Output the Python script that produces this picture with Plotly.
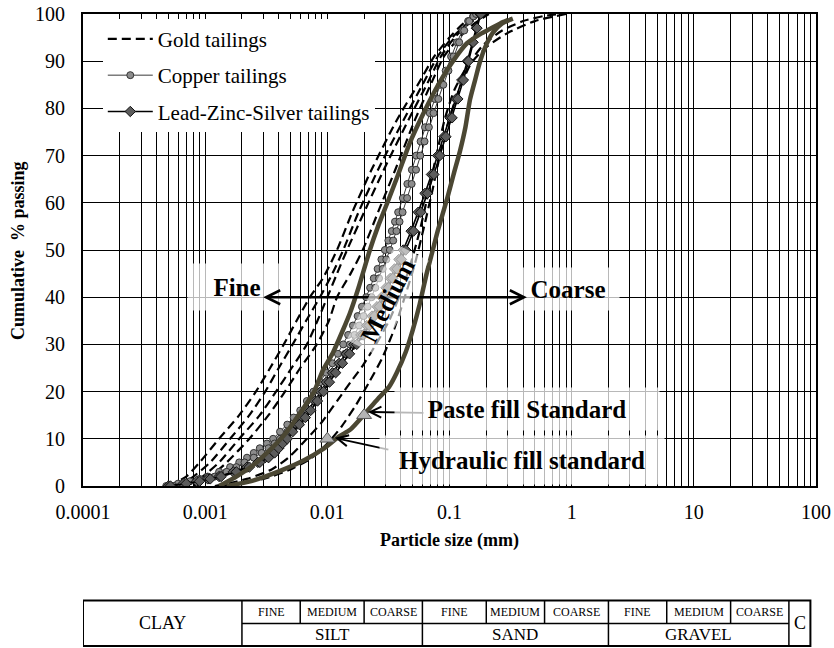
import numpy as np
import plotly.graph_objects as go

FONT = "Liberation Serif"

# ---------------- data (particle size in mm, cumulative % passing) ----------------
# Gold tailings (black dashed curves)
gold1_d = [0.0005, 0.0007, 0.0009, 0.0013, 0.0019, 0.0026, 0.0034, 0.0044, 0.0056, 0.0072, 0.0092, 0.012, 0.016, 0.023, 0.037, 0.055, 0.075, 0.1, 0.13, 0.17]
gold1_p = [0, 2, 5, 10, 15, 20, 25, 30, 35, 40, 44, 50, 58, 67, 77.5, 85, 91, 95, 98, 100]
gold2_d = [0.0006, 0.0008, 0.0011, 0.0016, 0.0023, 0.0031, 0.004, 0.0052, 0.0067, 0.0087, 0.011, 0.0135, 0.018, 0.026, 0.042, 0.06, 0.08, 0.105, 0.14, 0.18]
gold2_p = [0, 2, 5, 10, 15, 20, 25, 30, 35, 40, 45, 50, 58, 67, 77.5, 85, 91, 95, 98, 100]
gold3_d = [0.0007, 0.00095, 0.0013, 0.0019, 0.0028, 0.0038, 0.0051, 0.0068, 0.0083, 0.01, 0.012, 0.0145, 0.02, 0.029, 0.046, 0.065, 0.085, 0.11, 0.145, 0.19]
gold3_p = [0, 2, 5, 10, 15, 20, 25, 30, 35, 40, 45, 50, 58, 67, 77.5, 85, 91, 95, 98, 100]
gold4_d = [0.0008, 0.0011, 0.0015, 0.0023, 0.0033, 0.0045, 0.006, 0.0082, 0.0103, 0.012, 0.0155, 0.0195, 0.026, 0.036, 0.052, 0.07, 0.09, 0.12, 0.16, 0.21]
gold4_p = [0, 2, 5, 10, 15, 20, 25, 30, 35, 40, 45, 50, 58, 67, 77.5, 85, 91, 95, 98, 100]
gold5_d = [0.0012, 0.0022, 0.0035, 0.0048, 0.0068, 0.009, 0.012, 0.0155, 0.0195, 0.025, 0.032, 0.04, 0.048, 0.057, 0.067, 0.078, 0.092, 0.11, 0.14, 0.19, 0.27, 0.4, 0.6, 0.8]
gold5_p = [0, 1.5, 3.5, 6, 10, 13.5, 18, 22, 25.5, 30, 35, 41, 47, 54, 62, 70, 78, 84, 89, 93.5, 96.5, 98.5, 99.6, 100]
gold6_d = [0.0013, 0.003, 0.005, 0.0075, 0.01, 0.013, 0.017, 0.022, 0.028, 0.035, 0.043, 0.052, 0.062, 0.073, 0.085, 0.1, 0.12, 0.15, 0.2, 0.3, 0.5, 0.9]
gold6_p = [0, 1.5, 3.5, 6, 9, 12.5, 17, 22, 27, 33, 40, 47, 55, 63, 71, 78, 84, 89.5, 93, 96, 98.5, 100]

# Copper tailings (grey circles)
copper1_d = [0.00048, 0.0006, 0.00075, 0.0009, 0.00105, 0.0013, 0.0016, 0.0019, 0.0022, 0.0025, 0.0028, 0.0032, 0.0036, 0.0041, 0.0047, 0.0053, 0.006, 0.0068, 0.0077, 0.0087, 0.0098, 0.011, 0.0122, 0.0135, 0.0148, 0.0162, 0.0177, 0.0192, 0.0208, 0.0224, 0.024, 0.0258, 0.0277, 0.0296, 0.0316, 0.0337, 0.0358, 0.038, 0.0415, 0.0452, 0.0492, 0.0534, 0.058, 0.063, 0.069, 0.076, 0.084, 0.093, 0.103, 0.115, 0.128, 0.142, 0.156, 0.17]
copper1_p = [0, 0.5, 1, 1.5, 2, 3, 4, 5, 6, 7, 8, 9, 10, 11.5, 13, 14.5, 16, 18, 20, 22, 24, 26, 28, 30, 32, 34, 36, 38, 40, 42, 44, 46, 48, 50, 52, 54, 56, 58, 61, 64, 67, 70, 73, 76, 79, 82, 85, 88, 91, 94, 96.5, 98.5, 99.5, 100]
copper2_d = [0.00055, 0.0007, 0.00088, 0.00105, 0.0012, 0.0015, 0.0018, 0.0021, 0.0025, 0.0029, 0.0033, 0.0037, 0.0041, 0.0047, 0.0054, 0.0061, 0.0069, 0.0079, 0.009, 0.0101, 0.0113, 0.0126, 0.0139, 0.0153, 0.0167, 0.0182, 0.0198, 0.0214, 0.023, 0.0247, 0.0265, 0.0284, 0.0304, 0.0325, 0.0346, 0.0368, 0.039, 0.0413, 0.045, 0.049, 0.0532, 0.0577, 0.0625, 0.0678, 0.074, 0.081, 0.089, 0.098, 0.108, 0.12, 0.132, 0.145, 0.157, 0.165]
copper2_p = [0, 0.5, 1, 1.5, 2, 3, 4, 5, 6, 7, 8, 9, 10, 11.5, 13, 14.5, 16, 18, 20, 22, 24, 26, 28, 30, 32, 34, 36, 38, 40, 42, 44, 46, 48, 50, 52, 54, 56, 58, 61, 64, 67, 70, 73, 76, 79, 82, 85, 88, 91, 94, 96.5, 98.5, 99.5, 100]

# Lead-Zinc-Silver tailings (dark diamonds)
lead1_d = [0.0005, 0.00066, 0.00085, 0.00105, 0.0013, 0.0017, 0.0022, 0.0027, 0.0031, 0.0035, 0.0038, 0.0041, 0.0044, 0.0049, 0.0056, 0.0063, 0.0069, 0.0079, 0.0088, 0.0098, 0.011, 0.0125, 0.0143, 0.0165, 0.0188, 0.021, 0.0232, 0.0255, 0.0278, 0.0302, 0.0328, 0.0355, 0.0385, 0.0418, 0.0485, 0.0555, 0.063, 0.0712, 0.08, 0.09, 0.101, 0.113, 0.126, 0.14, 0.154, 0.166, 0.178]
lead1_p = [0, 0.5, 1, 1.5, 2, 3, 4, 5, 6, 7, 8, 9, 10, 11.5, 13, 14.5, 16, 18, 20, 22, 24, 26, 28, 30, 32, 34, 36, 38, 40, 42, 44, 46, 48, 50, 54, 58, 62, 66, 70, 74, 78, 82, 86, 90, 94, 97, 100]
lead2_d = [0.00052, 0.0007, 0.0009, 0.0011, 0.00135, 0.0018, 0.0023, 0.0028, 0.0033, 0.0037, 0.004, 0.0043, 0.0047, 0.0052, 0.0059, 0.0066, 0.0073, 0.0083, 0.0093, 0.0104, 0.0117, 0.0133, 0.0152, 0.0174, 0.0197, 0.022, 0.0243, 0.0267, 0.0291, 0.0316, 0.0343, 0.0372, 0.0404, 0.0438, 0.0508, 0.0582, 0.066, 0.0745, 0.0835, 0.0935, 0.105, 0.117, 0.13, 0.143, 0.156, 0.168, 0.18]
lead2_p = [0, 0.5, 1, 1.5, 2, 3, 4, 5, 6, 7, 8, 9, 10, 11.5, 13, 14.5, 16, 18, 20, 22, 24, 26, 28, 30, 32, 34, 36, 38, 40, 42, 44, 46, 48, 50, 54, 58, 62, 66, 70, 74, 78, 82, 86, 90, 94, 97, 100]

# Standard envelope curves (thick olive)
envelope_fine_d = [0.0013, 0.0018, 0.0025, 0.0032, 0.0045, 0.006, 0.0078, 0.0092, 0.011, 0.0134, 0.0153, 0.018, 0.0223, 0.026, 0.031, 0.038, 0.047, 0.06, 0.083, 0.11, 0.139, 0.18, 0.214, 0.26, 0.3]
envelope_fine_p = [0, 2, 4.5, 7, 11, 15.5, 20, 24.5, 28, 33, 36.6, 42, 50, 55, 60, 66, 72.5, 78.5, 85.5, 90.5, 93.8, 95.8, 96.8, 98, 98.7]
envelope_coarse_d = [0.0015, 0.0025, 0.0043, 0.0065, 0.0092, 0.0125, 0.0155, 0.0195, 0.026, 0.032, 0.037, 0.044, 0.05, 0.057, 0.065, 0.073, 0.08, 0.095, 0.108, 0.122, 0.135, 0.147, 0.162, 0.178, 0.2, 0.226, 0.27, 0.33]
envelope_coarse_p = [0, 1.2, 3.4, 5.5, 7.8, 10.5, 12, 14.8, 18.5, 21, 24, 28.5, 33, 38.5, 45, 50, 54, 60.6, 66, 71, 76, 81.8, 86, 90, 93.5, 96, 98, 99]

# Standard points (triangles)
standard_d = [0.01, 0.02]
standard_p = [10, 15]

# Axis ticks
decades = [0.0001, 0.001, 0.01, 0.1, 1, 10, 100]
decade_labels = ["0.0001", "0.001", "0.01", "0.1", "1", "10", "100"]
y_ticks = [0, 10, 20, 30, 40, 50, 60, 70, 80, 90, 100]

# Soil classification table (size boundaries, mm)
class_bounds = [0.0001, 0.002, 0.006, 0.02, 0.06, 0.2, 0.6, 2, 6, 20, 60, 90]
sub_labels = ["FINE", "MEDIUM", "COARSE"] * 3
main_labels = ["SILT", "SAND", "GRAVEL"]

# ---------------- figure ----------------
fig = go.Figure()

gold_curves = [(gold1_d, gold1_p), (gold2_d, gold2_p), (gold3_d, gold3_p),
               (gold4_d, gold4_p), (gold5_d, gold5_p), (gold6_d, gold6_p)]
for i, (d, p) in enumerate(gold_curves):
    fig.add_trace(go.Scatter(
        x=d, y=p, mode="lines", name="Gold tailings", legendgroup="gold",
        showlegend=(i == 0), hoverinfo="skip",
        line=dict(color="black", width=2.2, dash="9px,5px", shape="spline", smoothing=0.6)))

for i, (d, p) in enumerate([(copper1_d, copper1_p), (copper2_d, copper2_p)]):
    fig.add_trace(go.Scatter(
        x=d, y=p, mode="lines+markers", name="Copper tailings", legendgroup="copper",
        showlegend=(i == 0), hoverinfo="skip",
        line=dict(color="#3a3a3a", width=1),
        marker=dict(symbol="circle", size=7, color="#8c8c8c", line=dict(color="#333333", width=1))))

for i, (d, p) in enumerate([(lead1_d, lead1_p), (lead2_d, lead2_p)]):
    fig.add_trace(go.Scatter(
        x=d, y=p, mode="lines+markers", name="Lead-Zinc-Silver tailings", legendgroup="lead",
        showlegend=(i == 0), hoverinfo="skip",
        line=dict(color="black", width=1.6),
        marker=dict(symbol="diamond", size=8, color="#5c5c5c", line=dict(color="#111111", width=1))))

for d, p in [(envelope_fine_d, envelope_fine_p), (envelope_coarse_d, envelope_coarse_p)]:
    fig.add_trace(go.Scatter(
        x=d, y=p, mode="lines", showlegend=False, hoverinfo="skip",
        line=dict(color="#4b4733", width=4.5, shape="spline", smoothing=0.6)))

fig.add_trace(go.Scatter(
    x=standard_d, y=standard_p, mode="markers", showlegend=False, hoverinfo="skip",
    marker=dict(symbol="triangle-up", size=13, color="#b4b4b4", line=dict(color="#555555", width=1))))

# x tick values: every 1..9 x 10^k as grid, labels on decades only
x_tickvals = []
x_ticktext = []
for k, dec in enumerate(decades[:-1]):
    for m in range(1, 10):
        x_tickvals.append(dec * m)
        x_ticktext.append(decade_labels[k] if m == 1 else "")
x_tickvals.append(decades[-1])
x_ticktext.append(decade_labels[-1])

axis_font = dict(family=FONT, size=20, color="black")
fig.update_layout(
    template="none",
    width=834, height=648,
    margin=dict(l=83, r=18, t=14, b=162, autoexpand=False),
    paper_bgcolor="white", plot_bgcolor="white",
    font=dict(family=FONT, color="black"),
    xaxis=dict(type="log", range=[-4, 2], tickvals=x_tickvals, ticktext=x_ticktext,
               showgrid=True, gridcolor="black", gridwidth=1, automargin=False,
               showline=True, linecolor="black", linewidth=2, mirror=True,
               ticks="", tickfont=axis_font, ticklabelstandoff=7, zeroline=False),
    yaxis=dict(range=[0, 100], tickvals=y_ticks, automargin=False,
               showgrid=True, gridcolor="black", gridwidth=1,
               showline=True, linecolor="black", linewidth=2, mirror=True,
               ticks="", tickfont=axis_font, ticklabelstandoff=12, zeroline=False),
    legend=dict(x=0.027, y=0.99, xanchor="left", yanchor="top",
                bgcolor="white", borderwidth=0,
                font=dict(family=FONT, size=21, color="black"),
                traceorder="grouped", tracegroupgap=6, itemwidth=45),
    showlegend=True,
)

# white legend box (above grid, below traces)
fig.add_shape(type="rect", xref="paper", yref="paper", layer="between",
              x0=0.0, x1=0.408, y0=0.758, y1=0.983,
              fillcolor="white", line=dict(width=0))

# ---------------- annotations ----------------
ann = []
ann.append(dict(xref="paper", yref="paper", x=0.5, y=-0.1165, xanchor="center", yanchor="middle",
                showarrow=False, text="<b>Particle size (mm)</b>", font=dict(family=FONT, size=18)))
ann.append(dict(xref="paper", yref="paper", x=-0.0887, y=0.5, xanchor="center", yanchor="middle",
                showarrow=False, textangle=-90,
                text="<b>Cumulative\u00a0\u00a0% passing</b>", font=dict(family=FONT, size=18)))

box_bg = "rgba(255,255,255,0.72)"
big = dict(family=FONT, size=25, color="black")
ann.append(dict(x=np.log10(0.00182), y=42.2, xref="x", yref="y", text="<b>Fine</b>", showarrow=False,
                font=big, bgcolor=box_bg, width=96, height=44))
ann.append(dict(x=np.log10(0.93), y=41.7, xref="x", yref="y", text="<b>Coarse</b>", showarrow=False,
                font=big, bgcolor=box_bg, width=100, height=40))

# double arrow Fine <-> Coarse
ann.append(dict(x=np.log10(0.43), y=40, ax=np.log10(0.0029), ay=40, axref="x", ayref="y",
                xref="x", yref="y", text="", showarrow=True, arrowside="end+start",
                arrowhead=5, startarrowhead=5, arrowsize=1.1, startarrowsize=1.1,
                arrowwidth=2.5, arrowcolor="black", standoff=0, startstandoff=0))

ann.append(dict(x=np.log10(0.0313), y=39.4, xref="x", yref="y", text="<b>Medium</b>", showarrow=False,
                font=big, bgcolor="rgba(255,255,255,0.6)", textangle=-63, width=105, height=34))

# arrows to standards
ann.append(dict(x=np.log10(0.0215), y=15.7, ax=57, ay=1, xref="x", yref="y", text="",
                showarrow=True, arrowhead=5, arrowsize=1.2, arrowwidth=1.8, arrowcolor="black"))
ann.append(dict(x=np.log10(0.01153), y=10.2, ax=55, ay=12, xref="x", yref="y", text="",
                showarrow=True, arrowhead=5, arrowsize=1.2, arrowwidth=1.8, arrowcolor="black"))

ann.append(dict(x=np.log10(0.43), y=16.3, xref="x", yref="y", text="<b>Paste fill Standard</b>",
                showarrow=False, font=big, bgcolor=box_bg, width=262, height=40))
ann.append(dict(x=np.log10(0.39), y=5.5, xref="x", yref="y", text="<b>Hydraulic fill standard</b>",
                showarrow=False, font=big, bgcolor=box_bg, width=282, height=46))

# ---------------- classification table ----------------
t_top, t_mid, t_bot = -0.2426, -0.2913, -0.339
line_thin = dict(color="black", width=1.5)
fig.add_shape(type="rect", xref="x", yref="paper", x0=class_bounds[0], x1=class_bounds[-1],
              y0=t_bot, y1=t_top, line=dict(color="black", width=2))
fig.add_shape(type="line", xref="x", yref="paper", x0=class_bounds[1], x1=class_bounds[-2],
              y0=t_mid, y1=t_mid, line=line_thin)
for i, b in enumerate(class_bounds[1:-1]):
    full = (i % 3 == 0)
    fig.add_shape(type="line", xref="x", yref="paper", x0=b, x1=b,
                  y0=(t_bot if full else t_mid), y1=t_top, line=line_thin)

lb = np.log10(class_bounds)
cell = dict(xref="x", yref="paper", showarrow=False, xanchor="center", yanchor="middle")
ann.append(dict(x=(lb[0] + lb[1]) / 2, y=(t_top + t_bot) / 2, text="CLAY",
                font=dict(family=FONT, size=18), **cell))
ann.append(dict(x=(lb[-2] + lb[-1]) / 2, y=(t_top + t_bot) / 2, text="C",
                font=dict(family=FONT, size=18), **cell))
for i, lab in enumerate(sub_labels):
    ann.append(dict(x=(lb[1 + i] + lb[2 + i]) / 2, y=(t_top + t_mid) / 2, text=lab,
                    font=dict(family=FONT, size=12), **cell))
for j, lab in enumerate(main_labels):
    ann.append(dict(x=(lb[1 + 3 * j] + lb[4 + 3 * j]) / 2, y=(t_mid + t_bot) / 2, text=lab,
                    font=dict(family=FONT, size=17), **cell))

fig.update_layout(annotations=ann)
fig.write_html("out.html")
